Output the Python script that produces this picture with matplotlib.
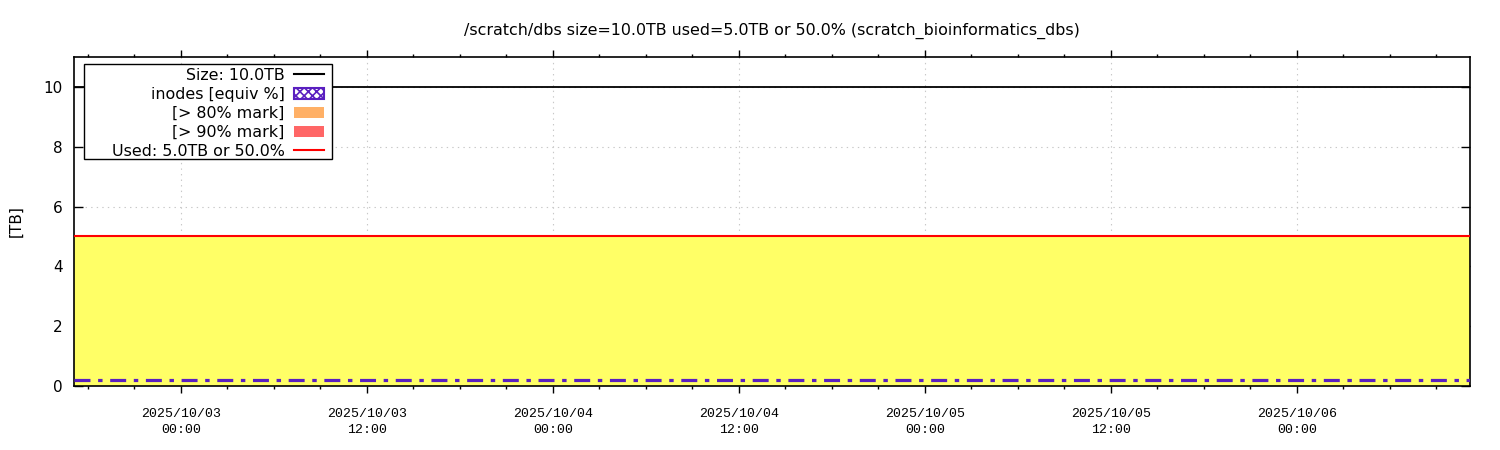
import matplotlib
matplotlib.use("Agg")
import matplotlib.pyplot as plt
import matplotlib.dates as mdates
from matplotlib.patches import Patch, Rectangle
from matplotlib.lines import Line2D
import pandas as pd

title = "/scratch/dbs size=10.0TB used=5.0TB or 50.0% (scratch_bioinformatics_dbs)"
times = pd.to_datetime([
    "2025-10-02 17:06", "2025-10-03 00:00", "2025-10-03 06:00", "2025-10-03 12:00",
    "2025-10-03 18:00", "2025-10-04 00:00", "2025-10-04 06:00", "2025-10-04 12:00",
    "2025-10-04 18:00", "2025-10-05 00:00", "2025-10-05 06:00", "2025-10-05 12:00",
    "2025-10-05 18:00", "2025-10-06 00:00", "2025-10-06 06:00", "2025-10-06 11:10",
])
used_tb = [5.0, 5.0, 5.0, 5.0, 5.0, 5.0, 5.0, 5.0, 5.0, 5.0, 5.0, 5.0, 5.0, 5.0, 5.0, 5.0]
inodes_tb = [0.2, 0.2, 0.2, 0.2, 0.2, 0.2, 0.2, 0.2, 0.2, 0.2, 0.2, 0.2, 0.2, 0.2, 0.2, 0.2]
size_tb = 10.0
y_ticks = [0, 2, 4, 6, 8, 10]
legend_labels = ["Size: 10.0TB", "inodes [equiv %]", "[> 80% mark]", "[> 90% mark]",
                 "Used: 5.0TB or 50.0%"]

plt.rcParams['lines.scale_dashes'] = False
plt.rcParams['hatch.color'] = "#5a1fc0"
plt.rcParams['hatch.linewidth'] = 1.2
W, H = 1500, 450
fig = plt.figure(figsize=(15, 4.5), dpi=100)
ax = fig.add_axes([74/W, 1-386/H, (1470-74)/W, (386-57)/H])

ax.fill_between(times, 0, used_tb, color="#ffff66", linewidth=0, zorder=1)
ax.plot(times, used_tb, color="#ff0000", linewidth=1.5, zorder=3)
ax.axhline(size_tb, color="black", linewidth=1.3, zorder=3)
ax.plot(times, inodes_tb, color="#5a1fc0", linewidth=2.3, dashes=(11.5, 5.5, 3.2, 5.5), zorder=3)

ax.set_xlim(times[0], times[-1])
ax.set_ylim(0, 11)
ax.set_yticks(y_ticks)
ax.xaxis.set_major_locator(mdates.HourLocator(byhour=[0, 12]))
ax.xaxis.set_minor_locator(mdates.HourLocator(byhour=range(0, 24, 3)))
ax.xaxis.set_major_formatter(mdates.DateFormatter("%Y/%m/%d\n%H:%M"))
ax.tick_params(axis='x', which='major', labelsize=9.5, direction='out', length=5, width=1,
               top=True, pad=10.5)
ax.tick_params(axis='x', which='minor', direction='out', length=2.5, width=1, top=True)
ax.tick_params(axis='y', which='major', labelsize=11, direction='in', length=6.5, width=1,
               right=True, pad=8)
for lab in ax.get_xticklabels():
    lab.set_family("Liberation Mono")
    lab.set_linespacing(1.55)
ax.grid(True, which='major', color='#c8c8c8', linestyle=(0, (1, 3)), linewidth=0.8, zorder=0)
ax.set_axisbelow(True)
for s in ax.spines.values():
    s.set_linewidth(1.2)
ax.set_ylabel("[TB]", fontsize=11)
ax.yaxis.set_label_coords(-0.036, 0.5)
ax.set_title(title, fontsize=11.4, pad=16)

# legend frame (gnuplot style key box)
frame = Rectangle((84/W, 1-159/H), (332-84)/W, (159-64)/H, transform=fig.transFigure,
                  facecolor="white", edgecolor="black", linewidth=1.0, zorder=4)
ax.add_artist(frame)

handles = [
    Line2D([], [], color="black", linewidth=1.5),
    Patch(facecolor="white", edgecolor="#5a1fc0", hatch="xxxx", linewidth=1.5),
    Patch(facecolor="#ffb066", edgecolor="none"),
    Patch(facecolor="#ff6666", edgecolor="none"),
    Line2D([], [], color="#ff0000", linewidth=1.5),
]
leg = ax.legend(handles, legend_labels, loc="upper right",
                bbox_to_anchor=(324/W, 1-68/H), bbox_transform=fig.transFigure,
                markerfirst=False, fontsize=11.4, frameon=False,
                borderpad=0, labelspacing=0.25,
                handlelength=1.9, handleheight=0.7, handletextpad=0.6, borderaxespad=0)
leg.set_zorder(5)

fig.savefig("out.png", dpi=100)
